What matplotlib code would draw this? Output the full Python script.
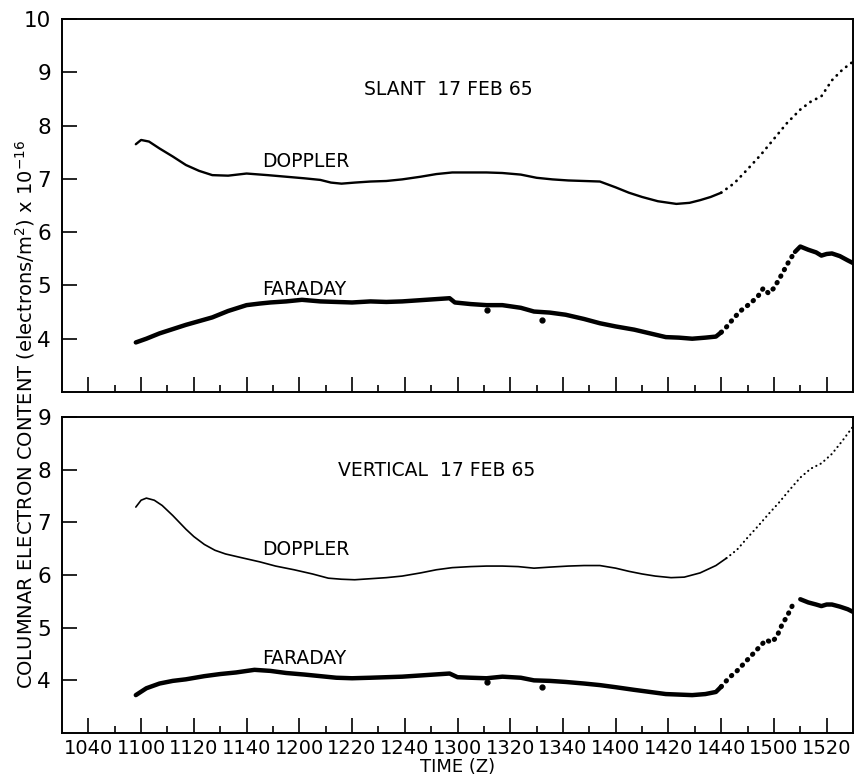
import numpy as np
import matplotlib
matplotlib.use("Agg")
import matplotlib.pyplot as plt
from matplotlib.ticker import FixedLocator, FuncFormatter

# time is in minutes after 1000 Z
slant_doppler_t = np.array([58, 60, 63, 67, 72, 77, 82, 87, 93, 100, 108, 115, 122, 128, 132, 136,
                            141, 147, 153, 159, 166, 172, 178, 185, 191, 197, 204, 210, 216, 222,
                            228, 234, 240, 245, 250, 256, 263, 268, 272, 276, 280, 285, 290, 295,
                            300, 305, 310, 314, 318, 322, 326, 330])
slant_doppler = np.array([7.65, 7.73, 7.70, 7.57, 7.42, 7.26, 7.15, 7.07, 7.06, 7.10, 7.07, 7.04,
                          7.01, 6.98, 6.93, 6.91, 6.93, 6.95, 6.96, 6.99, 7.04, 7.09, 7.12, 7.12,
                          7.12, 7.11, 7.08, 7.02, 6.99, 6.97, 6.96, 6.95, 6.84, 6.74, 6.66, 6.58,
                          6.53, 6.55, 6.60, 6.66, 6.74, 6.92, 7.18, 7.45, 7.75, 8.05, 8.30, 8.45,
                          8.55, 8.85, 9.05, 9.20])

slant_faraday_t = np.array([58, 62, 67, 72, 77, 82, 87, 93, 100, 105, 109, 115, 121, 128, 134, 140,
                            147, 153, 159, 165, 171, 177, 179, 185, 191, 197, 204, 209, 215, 221,
                            228, 234, 240, 247, 253, 259, 264, 269, 274, 278, 280, 282, 285, 288,
                            291, 294, 296, 298, 300, 302, 304, 306, 308, 310, 313, 316, 318, 320,
                            322, 325, 328, 330])
slant_faraday = np.array([3.93, 4.00, 4.10, 4.18, 4.26, 4.33, 4.40, 4.52, 4.63, 4.66, 4.68, 4.70,
                          4.73, 4.70, 4.69, 4.68, 4.70, 4.69, 4.70, 4.72, 4.74, 4.76, 4.68, 4.65,
                          4.63, 4.63, 4.58, 4.51, 4.49, 4.45, 4.37, 4.29, 4.23, 4.17, 4.10, 4.03,
                          4.02, 4.00, 4.02, 4.04, 4.12, 4.22, 4.40, 4.55, 4.66, 4.80, 4.95, 4.85,
                          4.95, 5.12, 5.30, 5.48, 5.63, 5.73, 5.67, 5.62, 5.56, 5.59, 5.60, 5.55,
                          5.47, 5.42])
slant_stray_t = [191, 212]
slant_stray = [4.54, 4.35]

vert_doppler_t = np.array([58, 60, 62, 65, 68, 72, 77, 80, 84, 88, 92, 98, 105, 111, 118, 125, 131,
                           136, 141, 147, 153, 159, 166, 172, 178, 185, 191, 197, 203, 209, 215,
                           222, 228, 234, 240, 245, 250, 255, 261, 266, 272, 278, 282, 286, 290,
                           294, 298, 302, 306, 310, 314, 318, 322, 326, 330])
vert_doppler = np.array([7.29, 7.42, 7.46, 7.42, 7.32, 7.13, 6.87, 6.73, 6.58, 6.47, 6.40, 6.33,
                         6.25, 6.17, 6.10, 6.02, 5.94, 5.92, 5.91, 5.93, 5.95, 5.98, 6.04, 6.10,
                         6.14, 6.16, 6.17, 6.17, 6.16, 6.13, 6.15, 6.17, 6.18, 6.18, 6.13, 6.07,
                         6.02, 5.98, 5.95, 5.96, 6.04, 6.18, 6.32, 6.48, 6.71, 6.93, 7.16, 7.38,
                         7.62, 7.85, 8.02, 8.12, 8.30, 8.55, 8.82])

vert_faraday_t = np.array([58, 62, 67, 72, 77, 84, 90, 96, 103, 109, 115, 122, 128, 134, 140, 147,
                           153, 159, 165, 171, 177, 180, 185, 191, 197, 204, 209, 215, 221, 228,
                           234, 240, 247, 253, 259, 264, 269, 274, 278, 280, 283, 286, 289, 292,
                           295, 297, 299, 301, 303, 305, 307, 310, 313, 316, 318, 320, 322, 325,
                           328, 330])
vert_faraday = np.array([3.72, 3.85, 3.94, 3.99, 4.02, 4.08, 4.12, 4.15, 4.20, 4.18, 4.14, 4.11,
                         4.08, 4.05, 4.04, 4.05, 4.06, 4.07, 4.09, 4.11, 4.13, 4.06, 4.05, 4.04,
                         4.07, 4.05, 4.00, 3.99, 3.97, 3.94, 3.91, 3.87, 3.82, 3.78, 3.74, 3.73,
                         3.72, 3.74, 3.78, 3.88, 4.05, 4.18, 4.34, 4.50, 4.66, 4.77, 4.72, 4.82,
                         5.05, 5.22, 5.42, 5.54, 5.48, 5.44, 5.41, 5.44, 5.44, 5.40, 5.35, 5.30])
vert_stray_t = [191, 212]
vert_stray = [3.97, 3.88]

major_t = list(range(40, 321, 20))
minor_t = list(range(50, 321, 20))

FS = 13.5
plt.rcParams['font.family'] = 'DejaVu Sans'


def hhmm(t, pos=None):
    t = int(round(t))
    return "%d%02d" % (10 + t // 60, t % 60)


def draw_doppler(ax, t, v, lw):
    solid = t <= 282
    dots = t >= 280
    ax.plot(t[solid], v[solid], color='black', lw=lw, solid_capstyle='round')
    ax.plot(t[dots], v[dots], color='black', lw=lw + 0.3, linestyle=(0, (0.1, 2.2)),
            dash_capstyle='round')


def draw_faraday(ax, t, v, st, sv):
    a = t <= 280
    b = (t >= 280) & (t <= 308)
    c = t >= 308
    ax.plot(t[a], v[a], color='black', lw=3.2, solid_capstyle='round')
    ax.plot(t[b], v[b], color='black', lw=3.6, linestyle=(0, (0.1, 1.4)), dash_capstyle='round')
    ax.plot(t[c], v[c], color='black', lw=3.2, solid_capstyle='round')
    ax.plot(st, sv, 'o', color='black', ms=3.5)


def style(ax, ylo, yhi, labels):
    ax.set_xlim(30, 330)
    ax.set_ylim(ylo, yhi)
    ax.xaxis.set_major_locator(FixedLocator(major_t))
    ax.xaxis.set_minor_locator(FixedLocator(minor_t))
    ax.xaxis.set_major_formatter(FuncFormatter(hhmm))
    ax.set_yticks(range(4, yhi + 1))
    ax.tick_params(which='both', direction='in', top=False, right=False, width=1.2,
                   labelbottom=labels)
    ax.tick_params(which='major', length=11)
    ax.tick_params(which='minor', length=5)
    ax.tick_params(axis='x', labelsize=14, pad=4)
    ax.tick_params(axis='y', labelsize=15.5, pad=8)
    for s in ax.spines.values():
        s.set_linewidth(1.4)


fig = plt.figure(figsize=(8.55, 7.79), dpi=100)
ax1 = fig.add_axes([0.0725, 0.4968, 0.9252, 0.4788])
ax2 = fig.add_axes([0.0725, 0.0590, 0.9252, 0.4057])

draw_doppler(ax1, slant_doppler_t, slant_doppler, 1.7)
draw_faraday(ax1, slant_faraday_t, slant_faraday, slant_stray_t, slant_stray)
style(ax1, 3, 10, False)
ax1.text(0.382, 0.81, "SLANT  17 FEB 65", transform=ax1.transAxes, fontsize=FS, va='center')
ax1.text(106, 7.32, "DOPPLER", fontsize=FS, va='center')
ax1.text(106, 4.93, "FARADAY", fontsize=FS, va='center')

draw_doppler(ax2, vert_doppler_t, vert_doppler, 1.2)
draw_faraday(ax2, vert_faraday_t, vert_faraday, vert_stray_t, vert_stray)
style(ax2, 3, 9, True)
ax2.text(0.349, 0.832, "VERTICAL  17 FEB 65", transform=ax2.transAxes, fontsize=FS, va='center')
ax2.text(106, 6.49, "DOPPLER", fontsize=FS, va='center')
ax2.text(106, 4.41, "FARADAY", fontsize=FS, va='center')
ax2.set_xlabel("TIME (Z)", fontsize=13, labelpad=0)

fig.text(0.029, 0.4685, r"COLUMNAR ELECTRON CONTENT (electrons/m$^2$) x 10$^{-16}$",
         rotation=90, ha='center', va='center', fontsize=14)

fig.savefig("out.png", dpi=100)
